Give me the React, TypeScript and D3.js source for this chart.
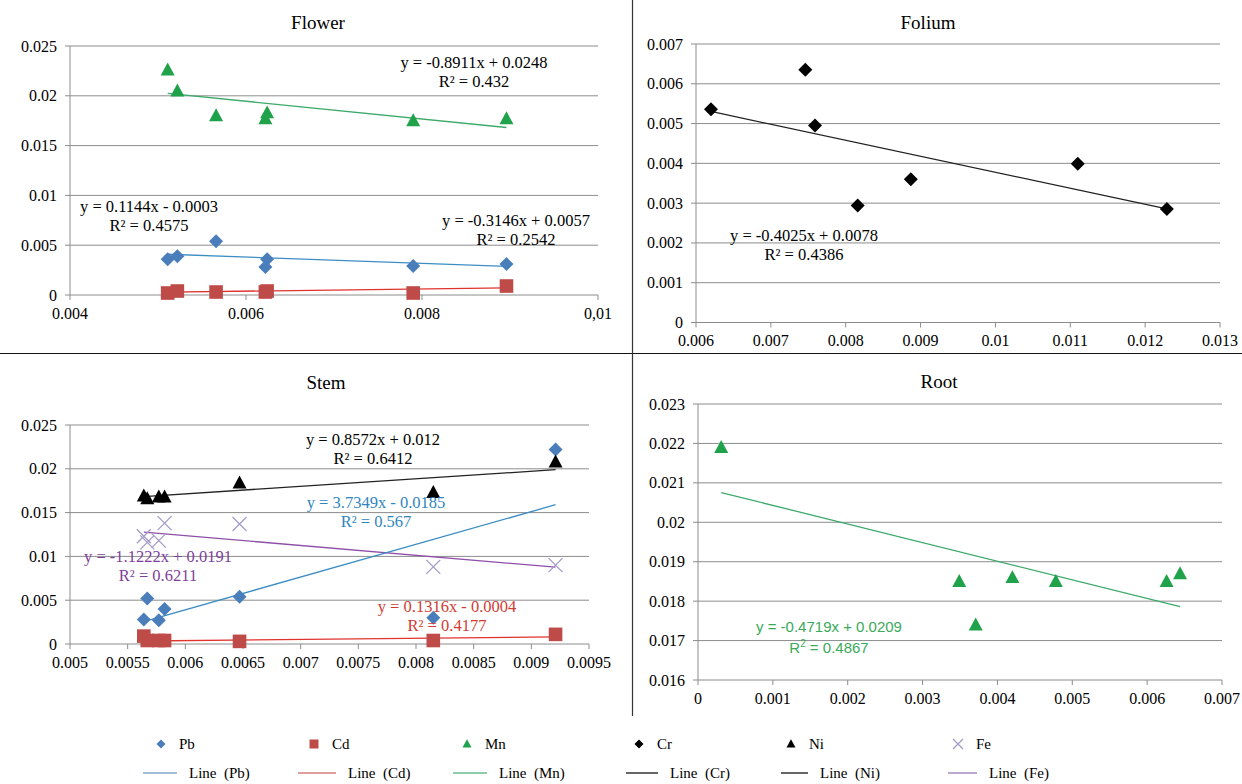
import React from 'react';
import * as d3 from 'd3';

// ---- data ----
const flowerX = [0.00511, 0.00522, 0.00566, 0.00622, 0.00624, 0.0079, 0.00896];
const flowerPb = [0.0036, 0.0039, 0.0054, 0.0028, 0.0036, 0.0029, 0.0031];
const flowerCd = [0.0002, 0.0004, 0.0003, 0.0003, 0.0004, 0.0002, 0.0009];
const flowerMn = [0.0226, 0.0205, 0.018, 0.0177, 0.0183, 0.0175, 0.0177];

const foliumX = [0.0062, 0.00746, 0.00759, 0.00816, 0.00887, 0.0111, 0.01229];
const foliumCr = [0.00536, 0.00635, 0.00495, 0.00294, 0.0036, 0.00399, 0.00285];

const stemX = [0.00564, 0.00567, 0.00577, 0.00582, 0.00647, 0.00815, 0.00921];
const stemPb = [0.0028, 0.0052, 0.0027, 0.004, 0.0054, 0.003, 0.0222];
const stemCd = [0.0009, 0.0004, 0.0004, 0.0004, 0.0003, 0.0004, 0.0011];
const stemNi = [0.0169, 0.0166, 0.0168, 0.0168, 0.0184, 0.0173, 0.0208];
const stemFe = [0.0123, 0.0116, 0.0118, 0.0138, 0.0137, 0.0088, 0.009];

const rootX = [0.00031, 0.00349, 0.00371, 0.0042, 0.00478, 0.00626, 0.00644];
const rootMn = [0.0219, 0.0185, 0.0174, 0.0186, 0.0185, 0.0185, 0.0187];

// trend lines [slope, intercept]
const flowerTrends = { Pb: [-0.3146, 0.0057], Cd: [0.1144, -0.0003], Mn: [-0.8911, 0.0248] };
const foliumTrends = { Cr: [-0.4025, 0.0078] };
const stemTrends = { Pb: [3.7349, -0.0185], Cd: [0.1316, -0.0004], Ni: [0.8572, 0.012], Fe: [-1.1222, 0.0191] };
const rootTrends = { Mn: [-0.4719, 0.0209] };

const flowerXTicks = ['0.004', '0.006', '0.008', '0,01'];
const flowerYTicks = ['0', '0.005', '0.01', '0.015', '0.02', '0.025'];
const foliumXTicks = ['0.006', '0.007', '0.008', '0.009', '0.01', '0.011', '0.012', '0.013'];
const foliumYTicks = ['0', '0.001', '0.002', '0.003', '0.004', '0.005', '0.006', '0.007'];
const stemXTicks = ['0.005', '0.0055', '0.006', '0.0065', '0.007', '0.0075', '0.008', '0.0085', '0.009', '0.0095'];
const stemYTicks = ['0', '0.005', '0.01', '0.015', '0.02', '0.025'];
const rootXTicks = ['0', '0.001', '0.002', '0.003', '0.004', '0.005', '0.006', '0.007'];
const rootYTicks = ['0.016', '0.017', '0.018', '0.019', '0.02', '0.021', '0.022', '0.023'];

const legendNames = ['Pb', 'Cd', 'Mn', 'Cr', 'Ni', 'Fe'];

const serif = "'Liberation Serif', 'Times New Roman', Times, serif";
const sans = "'Liberation Sans', Arial, sans-serif";

const style = {
  Pb: { shape: 'diamond', fill: '#4A7EBB', line: '#3C8DC4', legendLine: '#7FA8CC' },
  Cd: { shape: 'square', fill: '#BE4B48', line: '#E0322E', legendLine: '#D67E7B' },
  Mn: { shape: 'triangle', fill: '#1FA24A', line: '#3DAA6A', legendLine: '#66BB88' },
  Cr: { shape: 'diamond', fill: '#000', line: '#222', legendLine: '#333' },
  Ni: { shape: 'triangle', fill: '#000', line: '#222', legendLine: '#333' },
  Fe: { shape: 'cross', fill: '#A59BC9', line: '#8E4FA8', legendLine: '#A58AC0' },
};

function Marker({ kind, x, y, s, color }: any) {
  if (kind === 'diamond')
    return <path d={`M${x},${y - s}L${x + s},${y}L${x},${y + s}L${x - s},${y}Z`} fill={color} />;
  if (kind === 'square')
    return <rect x={x - s} y={y - s} width={2 * s} height={2 * s} fill={color} />;
  if (kind === 'triangle')
    return <path d={`M${x},${y - s * 1.05}L${x + s},${y + s * 0.8}L${x - s},${y + s * 0.8}Z`} fill={color} />;
  return (
    <path d={`M${x - s},${y - s}L${x + s},${y + s}M${x - s},${y + s}L${x + s},${y - s}`}
      stroke={color} strokeWidth={1.3} fill="none" />
  );
}

function Panel({ p }: any) {
  const x = d3.scaleLinear().domain(p.xDomain).range([p.left, p.right]);
  const y = d3.scaleLinear().domain(p.yDomain).range([p.bottom, p.top]);
  const xt = p.xTicks.map((_: string, i: number) =>
    p.xDomain[0] + (i * (p.xDomain[1] - p.xDomain[0])) / (p.xTicks.length - 1));
  const yt = p.yTicks.map((_: string, i: number) =>
    p.yDomain[0] + (i * (p.yDomain[1] - p.yDomain[0])) / (p.yTicks.length - 1));
  return (
    <g style={{ fontFamily: serif, fontSize: 16 }} fill="#000">
      {yt.map((t: number, i: number) => (
        <g key={'y' + i}>
          <line x1={p.left - 5} x2={p.right} y1={y(t)} y2={y(t)} stroke="#8c8c8c" />
          <text x={p.left - 13} y={y(t) + 5.5} textAnchor="end">{p.yTicks[i]}</text>
        </g>
      ))}
      <line x1={p.left} x2={p.left} y1={p.top} y2={p.bottom} stroke="#8c8c8c" />
      {xt.map((t: number, i: number) => (
        <g key={'x' + i}>
          <line x1={x(t)} x2={x(t)} y1={p.bottom} y2={p.bottom + 5} stroke="#8c8c8c" />
          <text x={x(t)} y={p.bottom + 23.5} textAnchor="middle">{p.xTicks[i]}</text>
        </g>
      ))}
      <text x={p.titleX} y={p.titleY} textAnchor="middle" style={{ fontSize: 19 }}>{p.title}</text>
      {p.series.map((s: any) => {
        const [m, b] = p.trends[s.name];
        const lo = d3.min(p.xs as number[])!;
        const hi = d3.max(p.xs as number[])!;
        return (
          <line key={'t' + s.name} x1={x(lo)} y1={y(m * lo + b)} x2={x(hi)} y2={y(m * hi + b)}
            stroke={style[s.name as keyof typeof style].line} strokeWidth={1.3} />
        );
      })}
      {p.series.map((s: any) => (
        <g key={'m' + s.name}>
          {s.ys.map((v: number, i: number) => (
            <Marker key={i} kind={style[s.name as keyof typeof style].shape}
              x={x(p.xs[i])} y={y(v)} s={s.name === 'Cd' ? 6.8 : 7}
              color={style[s.name as keyof typeof style].fill} />
          ))}
        </g>
      ))}
      {p.labels.map((l: any, i: number) => (
        <g key={'l' + i} fill={l.color} style={{ fontFamily: l.font || serif, fontSize: l.size || 16.5 }}>
          <text x={l.x} y={l.y} textAnchor="middle">{l.eq}</text>
          {l.sup ? (
            <text x={l.x} y={l.y + 21} textAnchor="middle">
              R<tspan style={{ fontSize: 10 }} dy={-6}>2</tspan><tspan dy={6}>{' = ' + l.r2}</tspan>
            </text>
          ) : (
            <text x={l.x} y={l.y + 19} textAnchor="middle">{'R² = ' + l.r2}</text>
          )}
        </g>
      ))}
    </g>
  );
}

const panels = [
  {
    title: 'Flower', titleX: 318, titleY: 29,
    left: 70, right: 598, top: 46, bottom: 295,
    xDomain: [0.004, 0.01], yDomain: [0, 0.025],
    xTicks: flowerXTicks, yTicks: flowerYTicks,
    xs: flowerX,
    series: [{ name: 'Pb', ys: flowerPb }, { name: 'Cd', ys: flowerCd }, { name: 'Mn', ys: flowerMn }],
    trends: flowerTrends,
    labels: [
      { eq: 'y = -0.8911x + 0.0248', r2: '0.432', x: 474, y: 68, color: '#000' },
      { eq: 'y = 0.1144x - 0.0003', r2: '0.4575', x: 149, y: 212, color: '#000' },
      { eq: 'y = -0.3146x + 0.0057', r2: '0.2542', x: 516, y: 226, color: '#000' },
    ],
  },
  {
    title: 'Folium', titleX: 928, titleY: 29,
    left: 696, right: 1220, top: 44, bottom: 322.5,
    xDomain: [0.006, 0.013], yDomain: [0, 0.007],
    xTicks: foliumXTicks, yTicks: foliumYTicks,
    xs: foliumX,
    series: [{ name: 'Cr', ys: foliumCr }],
    trends: foliumTrends,
    labels: [{ eq: 'y = -0.4025x + 0.0078', r2: '0.4386', x: 804, y: 241, color: '#000' }],
  },
  {
    title: 'Stem', titleX: 326, titleY: 389,
    left: 70, right: 589, top: 425, bottom: 644,
    xDomain: [0.005, 0.0095], yDomain: [0, 0.025],
    xTicks: stemXTicks, yTicks: stemYTicks,
    xs: stemX,
    series: [{ name: 'Fe', ys: stemFe }, { name: 'Cd', ys: stemCd }, { name: 'Pb', ys: stemPb }, { name: 'Ni', ys: stemNi }],
    trends: stemTrends,
    labels: [
      { eq: 'y = 0.8572x + 0.012', r2: '0.6412', x: 373, y: 445, color: '#000' },
      { eq: 'y = 3.7349x - 0.0185', r2: '0.567', x: 376, y: 508, color: '#2F86BD' },
      { eq: 'y = -1.1222x + 0.0191', r2: '0.6211', x: 158, y: 562, color: '#7E3F9A' },
      { eq: 'y = 0.1316x - 0.0004', r2: '0.4177', x: 447, y: 612, color: '#D23B33' },
    ],
  },
  {
    title: 'Root', titleX: 939, titleY: 388,
    left: 698, right: 1222, top: 404, bottom: 680,
    xDomain: [0, 0.007], yDomain: [0.016, 0.023],
    xTicks: rootXTicks, yTicks: rootYTicks,
    xs: rootX,
    series: [{ name: 'Mn', ys: rootMn }],
    trends: rootTrends,
    labels: [{ eq: 'y = -0.4719x + 0.0209', r2: '0.4867', x: 829, y: 632, color: '#3AAA5A', font: sans, size: 15, sup: true }],
  },
];

const legendMarkX = [161, 314, 467, 639, 791, 958];
const legendLine = [[143, 177], [298, 336], [453, 487], [626, 658], [781, 808], [948, 977]];

export default function App() {
  return (
    <svg width={1242} height={784} style={{ position: 'absolute', left: 0, top: 0, background: '#fff' }}>
      <rect width={1242} height={784} fill="#fff" />
      <line x1={0} x2={1242} y1={353.5} y2={353.5} stroke="#111" strokeWidth={1.2} />
      <line x1={632.5} x2={632.5} y1={0} y2={716} stroke="#333" strokeWidth={1.2} />
      {panels.map((p) => <Panel key={p.title} p={p} />)}
      <g style={{ fontFamily: serif, fontSize: 15 }}>
        {legendNames.map((n, i) => {
          const st = style[n as keyof typeof style];
          return (
            <g key={n}>
              <Marker kind={st.shape} x={legendMarkX[i]} y={744} s={n === 'Fe' ? 5 : 4.5} color={st.fill} />
              <text x={legendMarkX[i] + 18} y={749}>{n}</text>
              <line x1={legendLine[i][0]} x2={legendLine[i][1]} y1={773} y2={773} stroke={st.legendLine} strokeWidth={1.5} />
              <text x={legendLine[i][1] + 12} y={778} style={{ whiteSpace: 'pre' }}>{'Line  (' + n + ')'}</text>
            </g>
          );
        })}
      </g>
    </svg>
  );
}
